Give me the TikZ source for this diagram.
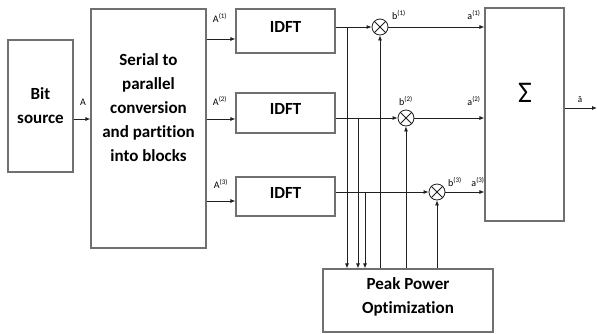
\documentclass[tikz,border=0pt]{standalone}
\usepackage{fontspec}
\setmainfont{Carlito}[Ligatures=NoCommon]
\usetikzlibrary{arrows.meta}
\definecolor{boxgray}{HTML}{707070}
\definecolor{linegray}{HTML}{202020}
\begin{document}
\begin{tikzpicture}[x=1pt,y=-1pt,
  box/.style={draw=boxgray, line width=1.2pt, inner sep=0pt},
  big/.style={font=\fontsize{17}{24}\selectfont\bfseries, align=center, inner sep=0pt},
  small/.style={font=\fontsize{10}{12}\selectfont, inner sep=0pt},
  arr/.style={draw=linegray, line width=0.8pt, -{Latex[length=5pt,width=4pt]}},
  ln/.style={draw=linegray, line width=0.8pt},
  mult/.style={circle, draw=linegray, line width=0.8pt, minimum size=16pt, inner sep=0pt}]
\useasboundingbox (0,0) rectangle (597,333);
% boxes
\node[box, minimum width=65pt, minimum height=132pt] (bs) at (40.5,106) {};
\node[big] (bst) at (40.5,106) {Bit\\source};
\node[box, minimum width=115pt, minimum height=239pt] (ser) at (148.5,128.5) {};
\node[big] (sert) at (148.5,108) {Serial to\\parallel\\conversion\\and partition\\into blocks};
\node[box, minimum width=99pt, minimum height=44pt] (id1) at (285.5,31) {};
\node[big] (id1t) at (285.5,27) {IDFT};
\node[box, minimum width=99pt, minimum height=40pt] (id2) at (285.5,113) {};
\node[big] (id2t) at (285.5,109) {IDFT};
\node[box, minimum width=99pt, minimum height=39pt] (id3) at (285.5,196.5) {};
\node[big] (id3t) at (285.5,193) {IDFT};
\node[box, minimum width=79pt, minimum height=213pt] (sum) at (524.5,114.5) {};
\node[font=\fontsize{30}{30}\selectfont, inner sep=0pt] (sumt) at (525,93) {Σ};
\node[box, minimum width=170pt, minimum height=63pt] (pk) at (408,300.5) {};
\node[big] (pkt) at (408,297) {Peak Power\\Optimization};
% multipliers
\node[mult] (m1) at (380,27) {};
\node[mult] (m2) at (406,118) {};
\node[mult] (m3) at (437,192) {};
\foreach \m in {m1,m2,m3}{
  \draw[ln] (\m.north west) -- (\m.south east);
  \draw[ln] (\m.north east) -- (\m.south west);
}
% inputs
\draw[arr] (bs.east |- 0,119) -- (ser.west |- 0,119);
\node[small] (la) at (83,102) {A};
\draw[arr] (ser.east |- 0,39) -- (id1.west |- 0,39);
\draw[arr] (ser.east |- 0,119) -- (id2.west |- 0,119);
\draw[arr] (ser.east |- 0,201) -- (id3.west |- 0,201);
\node[small] (lA1) at (220,18) {A\textsuperscript{(1)}};
\node[small] (lA2) at (220,101) {A\textsuperscript{(2)}};
\node[small] (lA3) at (221,184) {A\textsuperscript{(3)}};
% IDFT outputs
\draw[arr] (id1.east |- m1) -- (m1.west);
\draw[arr] (id2.east |- m2) -- (m2.west);
\draw[arr] (id3.east |- m3) -- (m3.west);
\coordinate (j1) at (347,27);
\coordinate (j2) at (358,118);
\coordinate (j3) at (365,192);
\draw[arr] (j1) -- (j1 |- pk.north);
\draw[arr] (j2) -- (j2 |- pk.north);
\draw[arr] (j3) -- (j3 |- pk.north);
% feedback to multipliers
\draw[arr] (pk.north -| m1) -- (m1.south);
\draw[arr] (pk.north -| m2) -- (m2.south);
\draw[arr] (pk.north -| m3) -- (m3.south);
% to sum
\draw[arr] (m1.east) -- (sum.west |- m1);
\draw[arr] (m2.east) -- (sum.west |- m2);
\draw[arr] (m3.east) -- (sum.west |- m3);
\node[small] (lb1) at (399,15) {b\textsuperscript{(1)}};
\node[small] (la1) at (474,15) {a\textsuperscript{(1)}};
\node[small] (lb2) at (406,101) {b\textsuperscript{(2)}};
\node[small] (la2) at (474,101) {a\textsuperscript{(2)}};
\node[small] (lb3) at (455,182) {b\textsuperscript{(3)}};
\node[small] (la3) at (478,182) {a\textsuperscript{(3)}};
% output
\draw[arr] (sum.east |- 0,108) -- (597,108);
\node[small, font=\fontsize{9}{10}\selectfont] (lo) at (580,100) {ã};
\end{tikzpicture}
\end{document}
